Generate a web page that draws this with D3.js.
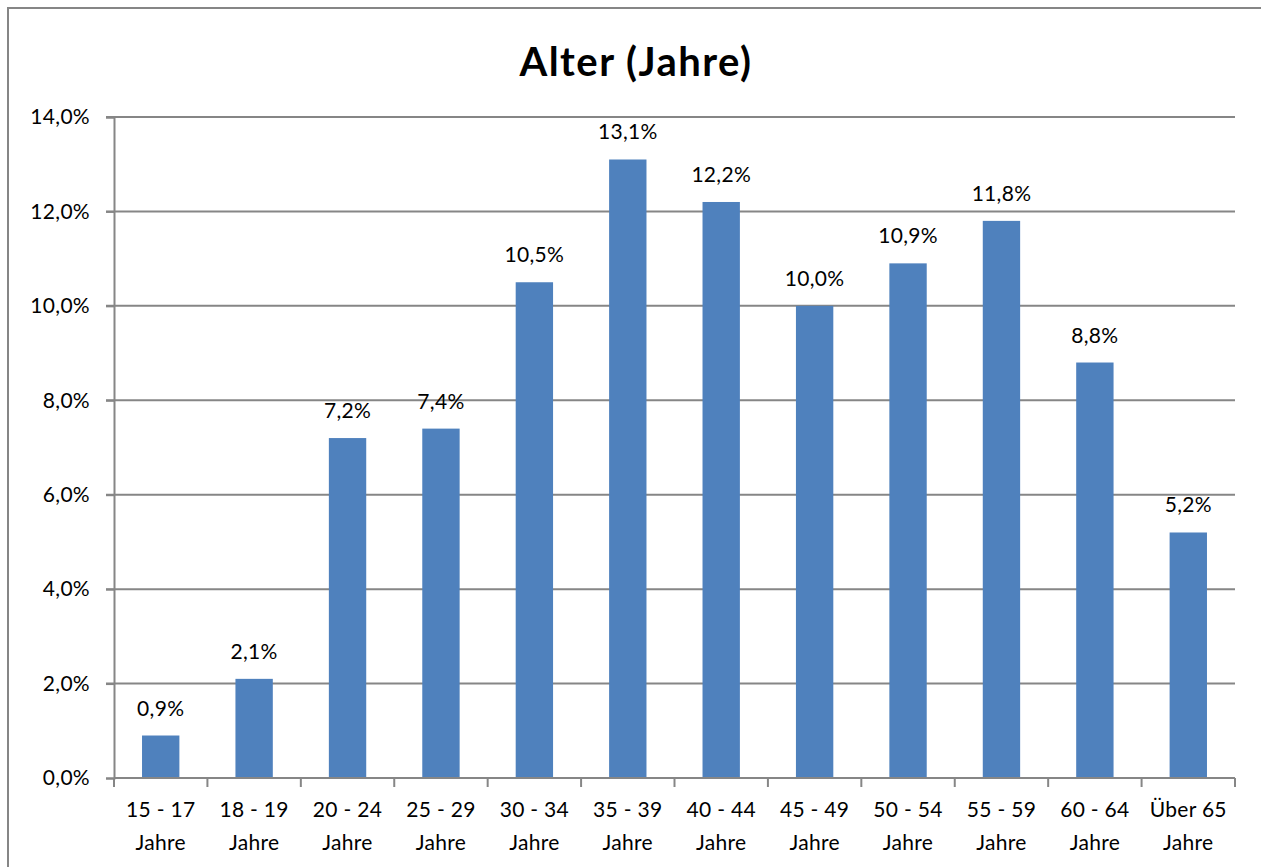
<!DOCTYPE html>
<html><head><meta charset="utf-8">
<script src="https://cdn.jsdelivr.net/npm/d3@7"></script>
<style>
html,body{margin:0;padding:0;background:#fff;}
svg{display:block;}
text{font-family:Lato,"Open Sans",sans-serif;fill:#000;}
</style></head>
<body>
<svg id="chart" width="1261" height="867"></svg>
<script>
const categories = [["15 - 17","Jahre"],["18 - 19","Jahre"],["20 - 24","Jahre"],["25 - 29","Jahre"],["30 - 34","Jahre"],["35 - 39","Jahre"],["40 - 44","Jahre"],["45 - 49","Jahre"],["50 - 54","Jahre"],["55 - 59","Jahre"],["60 - 64","Jahre"],["Über 65","Jahre"]];
const values = [0.9, 2.1, 7.2, 7.4, 10.5, 13.1, 12.2, 10.0, 10.9, 11.8, 8.8, 5.2];
const yTicks = [0, 2, 4, 6, 8, 10, 12, 14];
const title = "Alter (Jahre)";

const svg = d3.select("#chart");
const fmt = v => d3.format(".1f")(v).replace(".", ",") + "%";

// chart area border
svg.append("rect").attr("x", 8).attr("y", 8).attr("width", 1280).attr("height", 900)
  .attr("fill", "none").attr("stroke", "#868686").attr("stroke-width", 2);

const L = 114, R = 1235, T = 117, B = 778;
const x = d3.scaleBand().domain(d3.range(categories.length)).range([L, R]).paddingInner(0.6).paddingOuter(0.3);
const xb = d3.scaleBand().domain(d3.range(categories.length)).range([L, R]);
const y = d3.scaleLinear().domain([0, 14]).range([B, T]);

// gridlines
svg.append("g").selectAll("line").data(yTicks.filter(t => t > 0)).join("line")
  .attr("x1", L - 8).attr("x2", R).attr("y1", d => y(d)).attr("y2", d => y(d))
  .attr("stroke", "#868686").attr("stroke-width", 2);

// y axis
const yAxis = svg.append("g").attr("transform", `translate(${L},0)`)
  .call(d3.axisLeft(y).tickValues(yTicks).tickSize(8).tickPadding(16).tickFormat(fmt));
yAxis.select(".domain").attr("stroke", "#868686").attr("stroke-width", 2);
yAxis.selectAll(".tick line").attr("stroke", "#868686").attr("stroke-width", 2);
yAxis.selectAll(".tick text").attr("font-size", 21).attr("font-family", "Lato").attr("fill", "#000")
  .attr("letter-spacing", 0.3);

// bars
svg.append("g").selectAll("rect").data(values).join("rect")
  .attr("x", (d, i) => x(i)).attr("width", x.bandwidth())
  .attr("y", d => y(d)).attr("height", d => B - y(d))
  .attr("fill", "#4f81bd");

// x axis
const xAxis = svg.append("g").attr("transform", `translate(0,${B})`);
xAxis.append("line").attr("x1", L).attr("x2", R).attr("stroke", "#868686").attr("stroke-width", 2);
xAxis.selectAll(".tk").data(d3.range(categories.length + 1)).join("line").attr("class", "tk")
  .attr("x1", i => i < categories.length ? xb(i) : R).attr("x2", i => i < categories.length ? xb(i) : R)
  .attr("y1", 0).attr("y2", 9).attr("stroke", "#868686").attr("stroke-width", 2);
const lbl = xAxis.selectAll(".lbl").data(categories).join("text").attr("class", "lbl")
  .attr("text-anchor", "middle").attr("font-size", 21).attr("letter-spacing", 0.3);
lbl.append("tspan").attr("x", (d, i) => xb(i) + xb.bandwidth() / 2).attr("y", 39).text(d => d[0]);
lbl.append("tspan").attr("x", (d, i) => xb(i) + xb.bandwidth() / 2).attr("y", 72).text(d => d[1]);

// value labels
svg.append("g").selectAll("text").data(values).join("text")
  .attr("x", (d, i) => x(i) + x.bandwidth() / 2).attr("y", d => y(d) - 20)
  .attr("text-anchor", "middle").attr("font-size", 21).attr("letter-spacing", 0.3).text(fmt);

// title
svg.append("text").attr("x", 636).attr("y", 76).attr("text-anchor", "middle")
  .attr("font-size", 40).attr("font-weight", "bold").attr("letter-spacing", 1.5).text(title);
</script>
</body></html>
